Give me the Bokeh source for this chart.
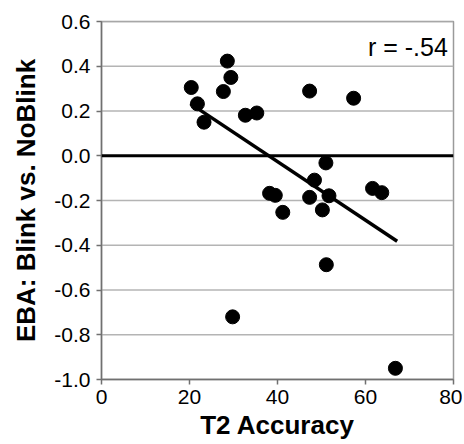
from bokeh.plotting import figure
from bokeh.models import Span, Label, FixedTicker, ColumnDataSource
from bokeh.embed import file_html
from bokeh.resources import INLINE

# Data
t2_accuracy = [20.4, 21.8, 23.3, 28.6, 27.7, 29.4, 32.7, 35.3, 47.3, 57.3,
               51.0, 48.4, 38.2, 39.5, 41.2, 47.3, 51.7, 50.2, 61.6, 63.7,
               51.1, 29.8, 66.8]
eba_diff = [0.305, 0.232, 0.150, 0.423, 0.287, 0.350, 0.181, 0.191, 0.289, 0.257,
            -0.032, -0.109, -0.168, -0.177, -0.253, -0.186, -0.179, -0.242, -0.146, -0.165,
            -0.487, -0.720, -0.950]
fit_x = [20.2, 67.2]
fit_y = [0.233, -0.382]
x_ticks = [0, 20, 40, 60, 80]
y_ticks = [0.6, 0.4, 0.2, 0.0, -0.2, -0.4, -0.6, -0.8, -1.0]
r_text = "r = -.54"

FONT = "Liberation Sans"
x_lo, x_hi = x_ticks[0], x_ticks[-1]
y_lo, y_hi = y_ticks[-1], y_ticks[0]

p = figure(width=462, height=442, x_range=(x_lo, x_hi), y_range=(y_lo, y_hi),
           output_backend="svg", toolbar_location=None,
           min_border_left=101, min_border_right=9, min_border_top=21, min_border_bottom=63)

p.background_fill_color = "white"
p.border_fill_color = "white"
p.outline_line_color = "#9a9a9a"
p.outline_line_width = 1.5

p.xaxis.ticker = FixedTicker(ticks=x_ticks)
p.yaxis.ticker = FixedTicker(ticks=y_ticks)
p.xgrid.grid_line_color = None
p.ygrid.grid_line_color = None
p.xaxis.major_label_overrides = {t: str(t) for t in x_ticks}
p.yaxis.major_label_overrides = {t: f"{t:.1f}" for t in y_ticks}

# horizontal gridlines as glyphs (drawn beneath the points)
grid_y = [t for t in y_ticks if t != 0.0]
p.segment(x0=[x_lo] * len(grid_y), x1=[x_hi] * len(grid_y), y0=grid_y, y1=grid_y,
          line_color="#b4b4b4", line_width=1.3)

for ax in (p.xaxis[0], p.yaxis[0]):
    ax.axis_line_color = "#707070"
    ax.axis_line_width = 1.5
    ax.major_tick_line_color = "#707070"
    ax.major_tick_line_width = 1.5
    ax.major_tick_out = 5
    ax.major_tick_in = 0
    ax.minor_tick_line_color = None
    ax.major_label_text_font = FONT
    ax.major_label_text_font_size = "21px"
    ax.major_label_text_color = "black"
    ax.axis_label_text_font = FONT
    ax.axis_label_text_font_style = "bold"
    ax.axis_label_text_font_size = "26px"
    ax.axis_label_text_color = "black"

p.xaxis.axis_label = "T2 Accuracy"
p.yaxis.axis_label = "EBA: Blink vs. NoBlink"
p.xaxis.major_label_standoff = 5
p.yaxis.major_label_standoff = 6
p.xaxis.axis_label_standoff = 3
p.yaxis.axis_label_standoff = 10

p.add_layout(Span(location=0, dimension="width", line_color="black", line_width=3))

src = ColumnDataSource(dict(x=t2_accuracy, y=eba_diff))
p.scatter("x", "y", source=src, size=14, marker="circle",
          fill_color="black", line_color="black")

p.line(fit_x, fit_y, line_color="black", line_width=3.5)

p.add_layout(Label(x=78.7, y=0.485, text=r_text, text_align="right",
                   text_baseline="alphabetic", text_font=FONT,
                   text_font_size="25px", text_color="black"))

open("out.html", "w").write(file_html(p, INLINE))
